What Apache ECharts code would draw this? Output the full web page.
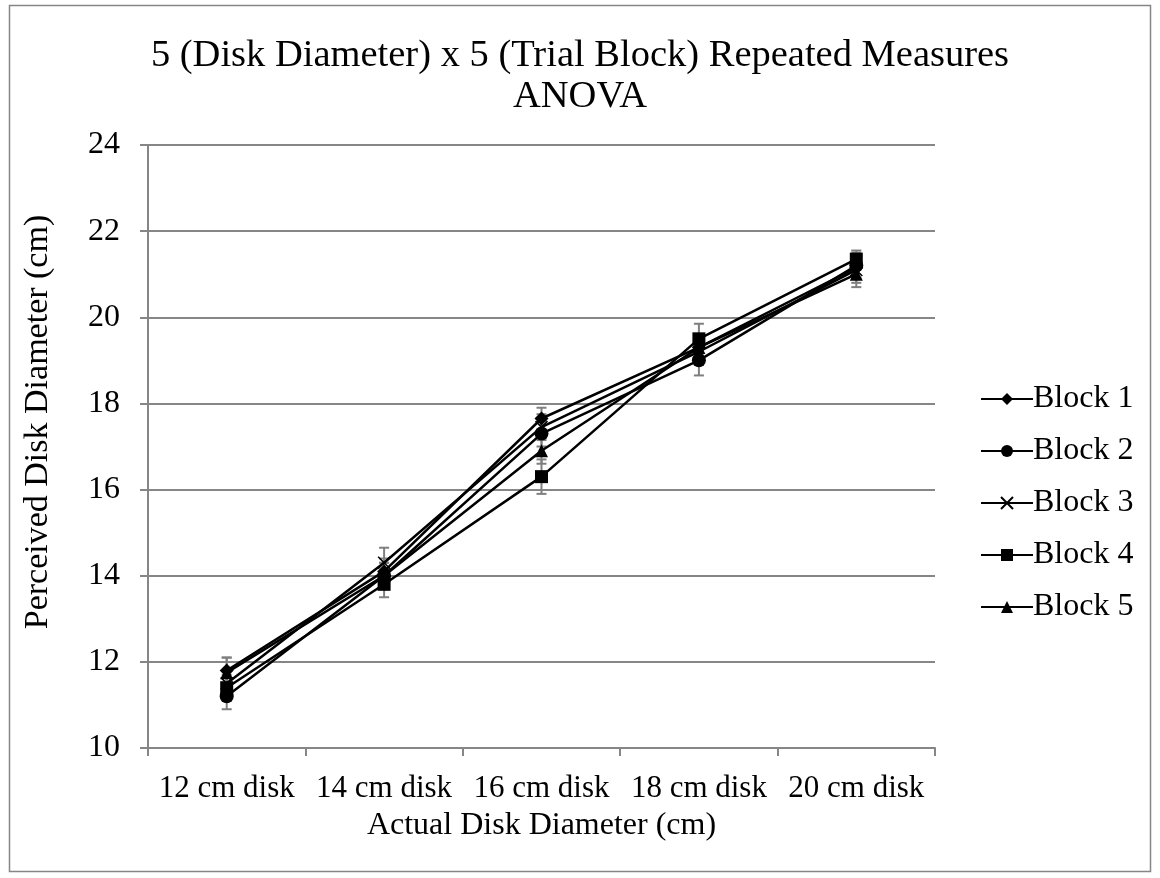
<!DOCTYPE html>
<html><head><meta charset="utf-8">
<script src="https://cdn.jsdelivr.net/npm/echarts@6/dist/echarts.min.js"></script>
<style>html,body{margin:0;padding:0;background:#fff}#c{width:1160px;height:878px}</style>
</head><body><div id="c"></div>
<script>
const categories = ['12 cm disk','14 cm disk','16 cm disk','18 cm disk','20 cm disk'];
const seriesNames = ['Block 1','Block 2','Block 3','Block 4','Block 5'];
const block1 = [11.8, 14.1, 17.65, 19.3, 21.15];
const block2 = [11.2, 14.0, 17.3, 19.0, 21.2];
const block3 = [11.5, 14.3, 17.45, 19.2, 21.1];
const block4 = [11.4, 13.8, 16.3, 19.5, 21.35];
const block5 = [11.75, 14.0, 16.9, 19.3, 21.0];
const err1 = [0.3, 0.3, 0.25, 0.3, 0.25];
const err2 = [0.3, 0.3, 0.3, 0.35, 0.3];
const err3 = [0.3, 0.35, 0.3, 0.3, 0.3];
const err4 = [0.3, 0.3, 0.4, 0.35, 0.2];
const err5 = [0.35, 0.3, 0.3, 0.3, 0.3];
const yTicks = [10, 12, 14, 16, 18, 20, 22, 24];

const means = [block1, block2, block3, block4, block5];
const errs = [err1, err2, err3, err4, err5];
const symbols = ['diamond','circle','path://M0,0L10,10M10,0L0,10','rect','triangle'];
const symSizes = [14, 14, 12, 13, 13];
const font = 'Liberation Serif, Times New Roman, serif';

const series = [];
means.forEach((m, i) => {
  series.push({
    type: 'custom', name: seriesNames[i] + ' err', silent: true, z: 1,
    data: m.map((v, j) => [j, v - errs[i][j], v + errs[i][j]]),
    renderItem: function (params, api) {
      const lo = api.coord([api.value(0), api.value(1)]);
      const hi = api.coord([api.value(0), api.value(2)]);
      const cw = 5;
      const st = {stroke: '#7f7f7f', lineWidth: 2};
      return {type: 'group', children: [
        {type: 'line', shape: {x1: lo[0], y1: lo[1], x2: hi[0], y2: hi[1]}, style: st},
        {type: 'line', shape: {x1: lo[0]-cw, y1: lo[1], x2: lo[0]+cw, y2: lo[1]}, style: st},
        {type: 'line', shape: {x1: hi[0]-cw, y1: hi[1], x2: hi[0]+cw, y2: hi[1]}, style: st}
      ]};
    }
  });
});
means.forEach((m, i) => {
  series.push({
    type: 'line', name: seriesNames[i], data: m, z: 3,
    symbol: symbols[i], symbolSize: symSizes[i],
    lineStyle: {color: '#000', width: 2.5},
    itemStyle: i === 2 ? {color: '#000', borderColor: '#000', borderWidth: 1.5} : {color: '#000'},
    emphasis: {disabled: true}
  });
});

const chart = echarts.init(document.getElementById('c'));
chart.setOption({
  animation: false,
  backgroundColor: '#fff',
  graphic: [
    {type: 'rect', shape: {x: 9.5, y: 5.5, width: 1141, height: 866}, style: {fill: 'none', stroke: '#868686', lineWidth: 1.5}, silent: true},
    {type: 'text', x: 38, y: 422, rotation: Math.PI / 2, silent: true,
     style: {text: 'Perceived Disk Diameter (cm)', fontFamily: font, fontSize: 34, fill: '#000', align: 'center', verticalAlign: 'middle'}}
  ],
  title: {
    text: '5 (Disk Diameter) x 5 (Trial Block) Repeated Measures\nANOVA',
    left: 'center', top: 30,
    textStyle: {fontFamily: font, fontSize: 38.5, fontWeight: 'normal', color: '#000', lineHeight: 41}
  },
  legend: {
    orient: 'vertical', left: 975, top: 378, itemGap: 20,
    itemWidth: 52, itemHeight: 15,
    data: seriesNames,
    textStyle: {fontFamily: font, fontSize: 32, color: '#000', padding: [0,0,0,-5]}
  },
  grid: {left: 148, right: 225, top: 145, bottom: 130},
  xAxis: {
    type: 'category', data: categories, boundaryGap: true,
    name: 'Actual Disk Diameter (cm)', nameLocation: 'middle', nameGap: 62,
    nameTextStyle: {fontFamily: font, fontSize: 32, color: '#000'},
    axisLine: {lineStyle: {color: '#868686', width: 2}},
    axisTick: {show: true, interval: 0, length: 8, lineStyle: {color: '#868686', width: 2}},
    axisLabel: {interval: 0, fontFamily: font, fontSize: 31, color: '#000', margin: 25}
  },
  yAxis: {
    type: 'value', min: 10, max: 24, interval: 2,
    axisLine: {show: true, lineStyle: {color: '#868686', width: 2}},
    axisTick: {show: true, length: 8, lineStyle: {color: '#868686', width: 2}},
    axisLabel: {fontFamily: font, fontSize: 32, color: '#000', margin: 28,
      formatter: v => yTicks.includes(v) ? String(v) : ''},
    splitLine: {lineStyle: {color: '#868686', width: 2}}
  },
  series: series
});
</script></body></html>
